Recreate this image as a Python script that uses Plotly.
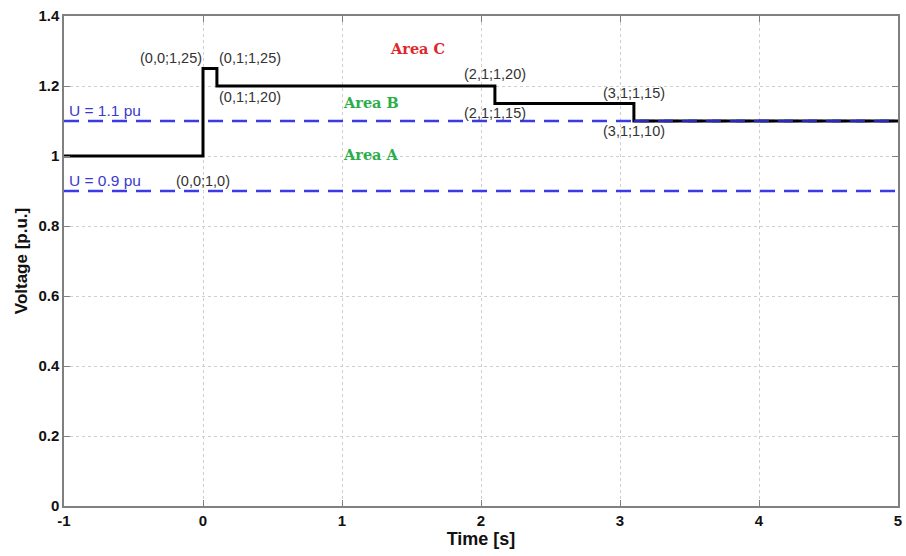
import plotly.graph_objects as go

# Step profile (time [s], voltage [p.u.])
step_t = [-1, 0, 0, 0.1, 0.1, 2.1, 2.1, 3.1, 3.1, 5]
step_v = [1.0, 1.0, 1.25, 1.25, 1.20, 1.20, 1.15, 1.15, 1.10, 1.10]

limit_levels = [1.1, 0.9]
limit_labels = ["U = 1.1 pu", "U = 0.9 pu"]
limit_label_y = [1.131, 0.93]

point_labels = ["(0,0;1,25)", "(0,1;1,25)", "(0,1;1,20)", "(2,1;1,20)", "(2,1;1,15)",
                "(3,1;1,15)", "(3,1;1,10)", "(0,0;1,0)"]
point_x = [0.01, 0.1, 0.1, 2.1, 2.1, 3.1, 3.1, 0.0]
point_y = [1.28, 1.28, 1.168, 1.234, 1.123, 1.18, 1.071, 0.93]
point_anchor = ["right", "left", "left", "center", "center", "center", "center", "center"]

area_labels = ["Area C", "Area B", "Area A"]
area_x = [1.54, 1.21, 1.21]
area_y = [1.307, 1.153, 1.003]
area_colors = ["#e0262b", "#2aae4a", "#2aae4a"]

x_ticks = [-1, 0, 1, 2, 3, 4, 5]
x_ticktext = ["-1", "0", "1", "2", "3", "4", "5"]
y_ticks = [0, 0.2, 0.4, 0.6, 0.8, 1, 1.2, 1.4]
y_ticktext = ["0", "0.2", "0.4", "0.6", "0.8", "1", "1.2", "1.4"]

fig = go.Figure()
for lv in limit_levels:
    fig.add_trace(go.Scatter(x=[-1, 5], y=[lv, lv], mode="lines",
                             line=dict(color="#3b3be6", width=2.5, dash="15px,9px"),
                             showlegend=False, hoverinfo="skip"))
fig.add_trace(go.Scatter(x=step_t, y=step_v, mode="lines",
                         line=dict(color="black", width=3), showlegend=False))
# blue dashes drawn over the final segment (overlap region)
fig.add_trace(go.Scatter(x=[3.1, 5], y=[1.1, 1.1], mode="lines",
                         line=dict(color="#2a2ab8", width=2.5, dash="15px,9px"),
                         showlegend=False, hoverinfo="skip"))

for txt, ly in zip(limit_labels, limit_label_y):
    fig.add_annotation(x=-0.98, y=ly, text=txt, showarrow=False, xanchor="left",
                       font=dict(family="Liberation Sans, Arial", size=15.5, color="#3a3acd"))
for txt, px, py, anc in zip(point_labels, point_x, point_y, point_anchor):
    fig.add_annotation(x=px, y=py, text=txt, showarrow=False, xanchor=anc,
                       font=dict(family="Liberation Sans, Arial", size=14.5, color="#333333"))
for txt, ax_, ay_, c in zip(area_labels, area_x, area_y, area_colors):
    fig.add_annotation(x=ax_, y=ay_, text="<b>" + txt + "</b>", showarrow=False,
                       font=dict(family="DejaVu Serif, Liberation Serif", size=14.5, color=c))

axis_common = dict(showline=True, linecolor="#808080", linewidth=1.5, mirror="ticks",
                   ticks="inside", ticklen=6, tickcolor="#808080",
                   showgrid=True, gridcolor="#cfcfcf", griddash="dot", gridwidth=1,
                   zeroline=False)
fig.update_xaxes(range=[-1, 5], tickvals=x_ticks, ticktext=x_ticktext,
                 title=dict(text="<b>Time [s]</b>", standoff=4,
                            font=dict(family="Liberation Sans Narrow, Arial Narrow, Liberation Sans", size=18, color="#111")),
                 tickfont=dict(family="Liberation Sans Narrow, Arial Narrow, Liberation Sans", size=15, color="#111", weight="bold"),
                 **axis_common)
fig.update_yaxes(range=[0, 1.4], tickvals=y_ticks, ticktext=y_ticktext,
                 title=dict(text="<b>Voltage [p.u.]</b>", standoff=6,
                            font=dict(family="Liberation Sans, Arial", size=17, color="#111")),
                 tickfont=dict(family="Liberation Sans, Arial", size=15, color="#111", weight="bold"),
                 **axis_common)
fig.update_layout(width=906, height=556, plot_bgcolor="white", paper_bgcolor="white",
                  margin=dict(l=64, r=4, t=16, b=50))
fig.write_html("out.html")
